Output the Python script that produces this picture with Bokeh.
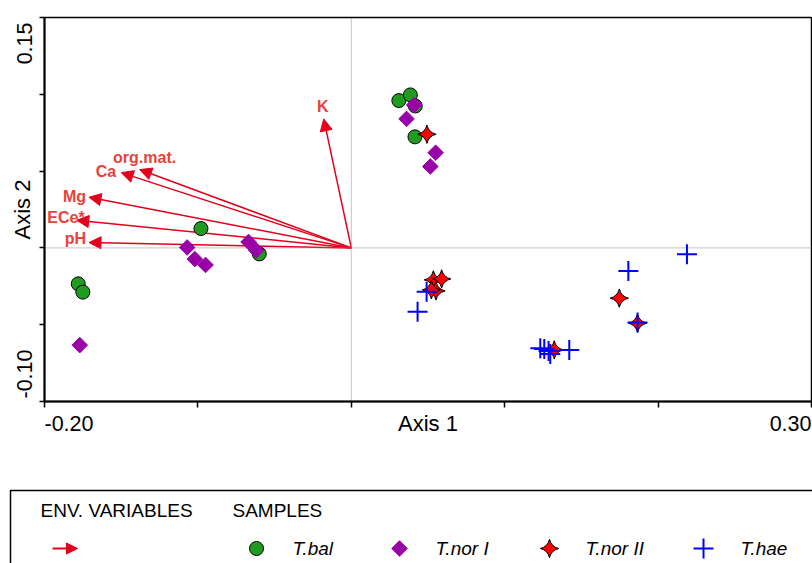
import math
from bokeh.plotting import figure
from bokeh.models import Range1d, FixedTicker, Arrow, NormalHead, ColumnDataSource
from bokeh.core.properties import value
from bokeh.embed import file_html
from bokeh.resources import INLINE

# ---------------- data ----------------
env_names = ["pH", "ECe*", "Mg", "Ca", "org.mat.", "K"]
env_axis1 = [-0.171, -0.179, -0.171, -0.150, -0.138, -0.018]
env_axis2 = [0.0035, 0.018, 0.033, 0.049, 0.051, 0.084]

tbal_axis1 = [-0.178, -0.175, -0.098, -0.060, 0.031, 0.0385, 0.0417, 0.0415]
tbal_axis2 = [-0.0234, -0.0288, 0.0126, -0.0039, 0.0959, 0.0996, 0.0924, 0.0723]

tnor1_axis1 = [-0.177, -0.107, -0.102, -0.095, -0.067, -0.062, 0.036, 0.041, 0.055, 0.0515]
tnor1_axis2 = [-0.0633, 0.0003, -0.0073, -0.0111, 0.0039, -0.0016, 0.084, 0.093, 0.062, 0.053]

tnor2_axis1 = [0.0493, 0.0535, 0.0589, 0.0552, 0.0522, 0.1323, 0.1747, 0.1866]
tnor2_axis2 = [0.074, -0.0208, -0.0202, -0.028, -0.0273, -0.0664, -0.0327, -0.049]

thae_axis1 = [0.0432, 0.0491, 0.1232, 0.1258, 0.1286, 0.1297, 0.1421, 0.1806, 0.1866, 0.2188]
thae_axis2 = [-0.0415, -0.0285, -0.0653, -0.0658, -0.0671, -0.069, -0.0664, -0.015, -0.0486, -0.0041]

x_ticks = [-0.2, -0.1, 0.0, 0.1, 0.2, 0.3]
y_ticks = [-0.10, -0.05, 0.0, 0.05, 0.10, 0.15]
x_end_labels = ["-0.20", "0.30"]
y_end_labels = ["-0.10", "0.15"]
axis_titles = ["Axis 1", "Axis 2"]
group_names = ["T.bal", "T.nor I", "T.nor II", "T.hae"]
legend_headers = ["ENV. VARIABLES", "SAMPLES"]

# ---------------- style / layout ----------------
FONT = "Liberation Sans"
ARROW_RED = "#e2001a"
LABEL_RED = "#e8423c"
GREEN = "#1f9c1f"
PURPLE = "#9900a8"
RED = "#ff0000"
BLUE = "#0000ff"

W, H = 812, 563
BOX_L, BOX_R, BOX_T, BOX_B = 44, 811, 17, 401   # pixel box of the plot area

env_label_dx = [-3, 8, -3, -5, 5, -1]
env_label_dy = [-4, -3, -1, -1, -12, -12]
env_label_align = ["right", "right", "right", "right", "center", "center"]

group_styles = [
    dict(marker="circle", size=14, fill_color=GREEN, line_color="black", line_width=1),
    dict(marker="square", angle=math.pi / 4, size=11, fill_color=PURPLE, line_color=PURPLE, line_width=1),
    dict(marker="square_pin", angle=math.pi / 4, size=13, fill_color=RED, line_color="black", line_width=1),
    dict(marker="cross", size=20, line_color=BLUE, line_width=2),
]
group_data = [
    (tbal_axis1, tbal_axis2),
    (tnor1_axis1, tnor1_axis2),
    (tnor2_axis1, tnor2_axis2),
    (thae_axis1, thae_axis2),
]

# legend layout (pixels)
LEG_BOX = (10, 490)
LEG_HEAD_X = [40, 232]
LEG_HEAD_Y = 510
LEG_ROW_Y = 548
LEG_ARROW_X = (52, 77)
LEG_SWATCH_X = [256, 399, 549, 703]
LEG_LABEL_X = [292, 435, 585, 740]

# ranges such that the tick extremes fall on the pixel box
kx = (BOX_R - BOX_L) / (x_ticks[-1] - x_ticks[0])
ky = (BOX_B - BOX_T) / (y_ticks[-1] - y_ticks[0])
x_range = Range1d(x_ticks[0] - BOX_L / kx, x_ticks[-1] + (W - BOX_R) / kx)
y_range = Range1d(y_ticks[0] - (H - BOX_B) / ky, y_ticks[-1] + BOX_T / ky)

p = figure(width=W, height=H, x_range=x_range, y_range=y_range, min_border=0,
           output_backend="svg", toolbar_location=None)
p.extra_x_ranges = {"px": Range1d(0, W)}
p.extra_y_ranges = {"px": Range1d(H, 0)}
p.grid.visible = False
p.outline_line_color = None
p.background_fill_color = "white"
p.border_fill_color = "white"

# axes pinned to the plot box
xa, ya = p.xaxis[0], p.yaxis[0]
xa.fixed_location = y_ticks[0]
xa.bounds = (x_ticks[0], x_ticks[-1])
ya.fixed_location = x_ticks[0]
ya.bounds = (y_ticks[0], y_ticks[-1])
for ax, ticks, title, tout, lstand in ((xa, x_ticks, axis_titles[0], 6, 3),
                                       (ya, y_ticks, axis_titles[1], 5, 5)):
    ax.ticker = FixedTicker(ticks=ticks, minor_ticks=[])
    ax.major_label_overrides = {t: "" for t in ticks}
    ax.major_label_standoff = 0
    ax.major_tick_out = tout
    ax.major_tick_in = 0
    ax.minor_tick_out = 0
    ax.minor_tick_in = 0
    ax.axis_line_width = 2
    ax.major_tick_line_width = 1.5
    ax.axis_label = title
    ax.axis_label_standoff = lstand
    ax.axis_label_text_font = FONT
    ax.axis_label_text_font_size = "22px"
    ax.axis_label_text_font_style = "normal"
    ax.axis_label_text_color = "black"

# plot box (top / right sides)
p.quad(left=[x_ticks[0]], right=[x_ticks[-1]], bottom=[y_ticks[0]], top=[y_ticks[-1]],
       fill_color=None, line_color="black", line_width=1.5)

# dotted zero lines
p.segment(x0=[0, x_ticks[0]], y0=[y_ticks[0], 0], x1=[0, x_ticks[-1]], y1=[y_ticks[-1], 0],
          line_color="#8a8a8a", line_dash="1 1", line_width=1)

# environmental arrows
env_src = ColumnDataSource(dict(x=env_axis1, y=env_axis2, name=env_names,
                                dx=env_label_dx, dy=env_label_dy, align=env_label_align))
p.add_layout(Arrow(end=NormalHead(size=12, fill_color=ARROW_RED, line_color=ARROW_RED, line_width=1),
                   x_start=0, y_start=0, x_end="x", y_end="y", source=env_src,
                   line_color=ARROW_RED, line_width=1.5, level="underlay"))

# samples
for (xs, ys), st in zip(group_data, group_styles):
    p.scatter(xs, ys, **st)

# env labels
p.text(x="x", y="y", text="name", source=env_src, x_offset="dx", y_offset="dy",
       text_align="align", text_baseline="middle",
       text_font=value(FONT), text_font_style="bold", text_font_size="16px",
       text_color=LABEL_RED)

# end tick labels
xt_src = ColumnDataSource(dict(x=[x_ticks[0], x_ticks[-1]], y=[y_ticks[0]] * 2,
                               t=x_end_labels, align=["left", "right"]))
p.text(x="x", y="y", text="t", source=xt_src, text_align="align", text_baseline="middle",
       y_offset=22, text_font=value(FONT), text_font_size="21.5px", text_color="black")
yt_src = ColumnDataSource(dict(x=[x_ticks[0]] * 2, y=[y_ticks[0], y_ticks[-1]],
                               t=y_end_labels, align=["left", "right"], dy=[-3, 5]))
p.text(x="x", y="y", text="t", source=yt_src, text_align="align", text_baseline="middle",
       angle=math.pi / 2, x_offset=-20, y_offset="dy",
       text_font=value(FONT), text_font_size="21.5px", text_color="black")

# ---------------- legend ----------------
p.quad(left=[LEG_BOX[0]], right=[W + 50], top=[LEG_BOX[1]], bottom=[H + 50],
       fill_color=None, line_color="black", line_width=1.5,
       x_range_name="px", y_range_name="px")
p.text(x=LEG_HEAD_X, y=[LEG_HEAD_Y] * 2, text=legend_headers, text_baseline="middle",
       text_font=value(FONT), text_font_size="19px", text_color="black",
       x_range_name="px", y_range_name="px")
p.add_layout(Arrow(end=NormalHead(size=11, fill_color=ARROW_RED, line_color=ARROW_RED, line_width=1),
                   x_start=LEG_ARROW_X[0], y_start=LEG_ROW_Y, x_end=LEG_ARROW_X[1], y_end=LEG_ROW_Y,
                   line_color=ARROW_RED, line_width=2, x_range_name="px", y_range_name="px"))
for sx, st in zip(LEG_SWATCH_X, group_styles):
    p.scatter([sx], [LEG_ROW_Y], x_range_name="px", y_range_name="px", **st)
p.text(x=LEG_LABEL_X, y=[LEG_ROW_Y] * 4, text=group_names, text_baseline="middle",
       text_font=value(FONT), text_font_style="italic", text_font_size="19px",
       text_color="black", x_range_name="px", y_range_name="px")

open("out.html", "w").write(file_html(p, INLINE))
